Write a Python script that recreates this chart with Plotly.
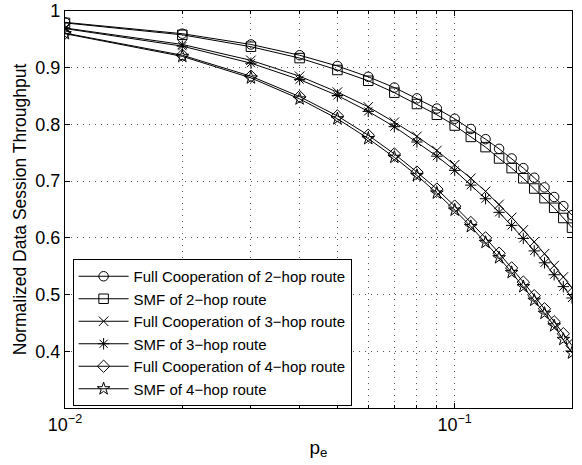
import plotly.graph_objects as go

p_e = [0.01, 0.02, 0.03, 0.04, 0.05, 0.06, 0.07, 0.08, 0.09, 0.10,
       0.11, 0.12, 0.13, 0.14, 0.15, 0.16, 0.17, 0.18, 0.19, 0.20]

full_2hop = [0.980, 0.960, 0.941, 0.922, 0.903, 0.884, 0.865, 0.846, 0.828, 0.810,
             0.792, 0.774, 0.757, 0.740, 0.723, 0.706, 0.689, 0.672, 0.656, 0.640]
smf_2hop = [0.979, 0.958, 0.937, 0.917, 0.896, 0.877, 0.856, 0.836, 0.817, 0.798,
            0.778, 0.760, 0.740, 0.723, 0.705, 0.687, 0.670, 0.653, 0.635, 0.618]
full_3hop = [0.970, 0.941, 0.913, 0.885, 0.857, 0.831, 0.804, 0.779, 0.754, 0.729,
             0.705, 0.682, 0.659, 0.636, 0.614, 0.593, 0.572, 0.551, 0.531, 0.512]
smf_3hop = [0.969, 0.938, 0.908, 0.879, 0.851, 0.823, 0.796, 0.769, 0.744, 0.719,
            0.693, 0.669, 0.645, 0.622, 0.599, 0.577, 0.556, 0.535, 0.514, 0.494]
full_4hop = [0.961, 0.922, 0.885, 0.849, 0.815, 0.781, 0.748, 0.716, 0.686, 0.656,
             0.627, 0.600, 0.573, 0.547, 0.522, 0.498, 0.475, 0.452, 0.431, 0.410]
smf_4hop = [0.960, 0.920, 0.882, 0.845, 0.810, 0.775, 0.742, 0.710, 0.679, 0.649,
            0.620, 0.592, 0.565, 0.539, 0.514, 0.490, 0.467, 0.445, 0.421, 0.397]

series = [
    ("Full Cooperation of 2\u2212hop route", full_2hop, "circle-open"),
    ("SMF of 2\u2212hop route", smf_2hop, "square-open"),
    ("Full Cooperation of 3\u2212hop route", full_3hop, "x-thin-open"),
    ("SMF of 3\u2212hop route", smf_3hop, "asterisk-open"),
    ("Full Cooperation of 4\u2212hop route", full_4hop, "diamond-open"),
    ("SMF of 4\u2212hop route", smf_4hop, "star-open"),
]

x_major = [0.01, 0.1]
x_major_text = ["10<sup>\u22122</sup>", "10<sup>\u22121</sup>"]
x_minor = [0.02, 0.03, 0.04, 0.05, 0.06, 0.07, 0.08, 0.09, 0.2]
y_ticks = [0.4, 0.5, 0.6, 0.7, 0.8, 0.9, 1.0]
y_text = ["0.4", "0.5", "0.6", "0.7", "0.8", "0.9", "1"]

fig = go.Figure()
for name, vals, sym in series:
    fig.add_trace(go.Scatter(
        x=p_e, y=vals, name=name, mode="lines+markers",
        line=dict(color="black", width=1),
        marker=dict(symbol=sym, size=9.5, color="black", line=dict(width=1, color="black")),
    ))

fam = "Liberation Sans, Arial, sans-serif"
dash = "1px,5px"
gridc = "#555"
tickfont = dict(family=fam, size=18, color="black")
fig.update_layout(
    width=582, height=465,
    margin=dict(l=65, r=10, t=11, b=57),
    paper_bgcolor="white", plot_bgcolor="white",
    font=dict(family=fam, size=17, color="black"),
    showlegend=True,
    legend=dict(
        x=0.015, y=0.005, xanchor="left", yanchor="bottom",
        bgcolor="white", bordercolor="black", borderwidth=1,
        font=dict(family=fam, size=15, color="black"),
        tracegroupgap=0, itemwidth=50,
    ),
    xaxis=dict(
        type="log", range=[-2, -0.69897],
        tickvals=x_major, ticktext=x_major_text, tickfont=tickfont,
        ticks="inside", ticklen=5, tickcolor="black",
        showline=True, linecolor="black", linewidth=1.2, mirror="ticks",
        showgrid=True, gridcolor=gridc, griddash=dash, gridwidth=1,
        zeroline=False, automargin=False,
        minor=dict(tickvals=x_minor, ticks="inside", ticklen=3, tickcolor="black",
                   showgrid=True, gridcolor=gridc, griddash=dash, gridwidth=1),
        title=dict(text="p<sub>e</sub>", font=dict(size=19), standoff=6),
    ),
    yaxis=dict(
        range=[0.3, 1.0],
        tickvals=y_ticks, ticktext=y_text, tickfont=tickfont,
        ticks="inside", ticklen=5, tickcolor="black",
        showline=True, linecolor="black", linewidth=1.2, mirror="ticks",
        showgrid=True, gridcolor=gridc, griddash=dash, gridwidth=1,
        zeroline=False, automargin=False,
        title=dict(text="Normalized Data Session Throughput", font=dict(size=17.5), standoff=4),
    ),
)

fig.write_html("out.html")
